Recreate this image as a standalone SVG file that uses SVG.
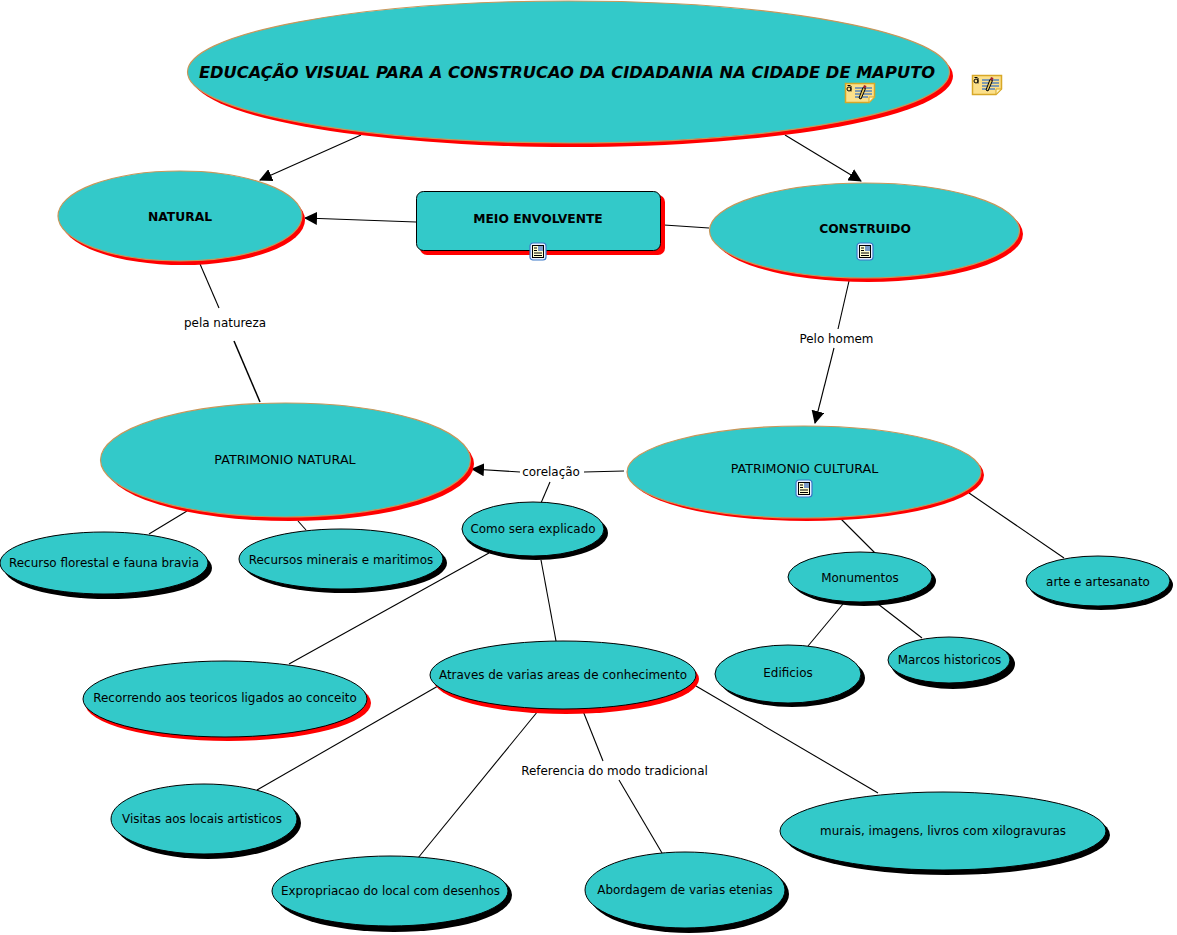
<svg xmlns="http://www.w3.org/2000/svg" width="1177" height="935" viewBox="0 0 1177 935">
<style>
text{font-family:"DejaVu Sans",Verdana,sans-serif;font-size:11.95px;fill:#000;text-anchor:middle}
.b{font-weight:bold;font-size:12.3px}
.u{font-size:12.7px}
.t{font-weight:bold;font-style:italic;font-size:16.3px}
.n{fill:#33c9c9;stroke:#000;stroke-width:1}
.o{fill:#33c9c9;stroke:#c8975a;stroke-width:1.2}
.sr{fill:#f00}.sk{fill:#000}
.c line{stroke:#000;stroke-width:1.1}
</style>
<defs>
<marker id="a" markerUnits="userSpaceOnUse" markerWidth="13" markerHeight="13" refX="12" refY="6.500" orient="auto"><path d="M0 0L13 6.500L0 13z" fill="#000"/></marker>
<g id="doc"><rect x="0" y="0" width="16" height="17" rx="3" fill="#e8f0ff" stroke="#3a78c8" stroke-width="1.200"/><rect x="2.500" y="2.500" width="11" height="12" fill="#ffffd0" stroke="#000" stroke-width="1"/><rect x="8" y="3" width="5" height="5" fill="#7a9ac8"/><path d="M4 5h3M4 7.500h3M4 10h8M4 12.500h8" stroke="#000" stroke-width="1"/></g>
<g id="note"><path d="M.5 .5H29.500V14L24 19.500H.5z" fill="#fce08a" stroke="#d8a828" stroke-width="1.500"/><path d="M24 19.500V14H29.500z" fill="#fff4c0" stroke="#d8a828"/><circle cx="4" cy="6" r="2" fill="none" stroke="#000"/><path d="M6 3v5.500M2.500 2.500h3" stroke="#000" fill="none" stroke-width="1"/><path d="M10 5h17M10 8h17M10 11h17M10 14h13" stroke="#5a84b8" stroke-width="1.500"/><path d="M14 15L18 4.500L20.500 5.500L16 16z" fill="#e8c860" stroke="#000"/><path d="M18 4.500L19 2L21.500 3L20.500 5.500z" fill="#a02030"/></g>
</defs>
<g class="c">
<line x1="361" y1="135" x2="260" y2="180" marker-end="url(#a)"/>
<line x1="785" y1="135" x2="861" y2="181" marker-end="url(#a)"/>
<line x1="416" y1="222" x2="305" y2="218" marker-end="url(#a)"/>
<line x1="664" y1="225" x2="709" y2="228"/>
<line x1="200" y1="264" x2="219" y2="308"/>
<line x1="234" y1="341" x2="260" y2="402" style="stroke-width:1.500"/>
<line x1="849" y1="281" x2="838" y2="329"/>
<line x1="834" y1="348" x2="815" y2="423" marker-end="url(#a)"/>
<line x1="520" y1="472" x2="472" y2="469" marker-end="url(#a)"/>
<line x1="584" y1="472" x2="624" y2="471"/>
<line x1="550" y1="482" x2="541" y2="503"/>
<line x1="187" y1="511" x2="149" y2="534"/>
<line x1="298" y1="521" x2="306" y2="530"/>
<line x1="489" y1="553" x2="289" y2="664"/>
<line x1="541" y1="560" x2="556" y2="641"/>
<line x1="840" y1="518" x2="875" y2="553"/>
<line x1="969" y1="493" x2="1064" y2="558"/>
<line x1="843" y1="604" x2="808" y2="646"/>
<line x1="878" y1="604" x2="922" y2="638"/>
<line x1="438" y1="686" x2="257" y2="790"/>
<line x1="538" y1="711" x2="418" y2="858"/>
<line x1="583" y1="711" x2="603" y2="761"/>
<line x1="619" y1="780" x2="662" y2="853"/>
<line x1="696" y1="686" x2="878" y2="793"/>
</g>
<g id="title"><ellipse class="sr" cx="572" cy="76" rx="381" ry="71"/><ellipse class="o" cx="568.500" cy="72" rx="381" ry="71"/><text class="t" x="567" y="78">EDUCAÇÃO VISUAL PARA A CONSTRUCAO DA CIDADANIA NA CIDADE DE MAPUTO</text><use href="#note" x="845" y="83"/></g>
<g id="note2"><use href="#note" x="972" y="75"/></g>
<g id="natural"><ellipse class="sr" cx="183" cy="220" rx="122" ry="45"/><ellipse class="o" cx="180" cy="216" rx="122" ry="45"/><text class="b" x="180" y="221">NATURAL</text></g>
<g id="meio"><rect class="sr" x="420" y="195" width="245" height="60" rx="7"/><rect class="n" x="416.500" y="191.500" width="244" height="59" rx="7"/><text class="b" x="538" y="223">MEIO ENVOLVENTE</text><use href="#doc" x="530" y="243"/></g>
<g id="construido"><ellipse class="sr" cx="868" cy="234" rx="155" ry="48"/><ellipse class="o" cx="864.500" cy="230.500" rx="155" ry="47.500"/><text class="b" x="865" y="233">CONSTRUIDO</text><use href="#doc" x="857" y="243"/></g>
<g id="patnat"><ellipse class="sr" cx="289" cy="464" rx="185" ry="57"/><ellipse class="o" cx="285.500" cy="460" rx="185" ry="57"/><text class="u" x="285" y="464">PATRIMONIO NATURAL</text></g>
<g id="patcul"><ellipse class="sr" cx="807" cy="475" rx="177" ry="46"/><ellipse class="o" cx="804" cy="472" rx="177" ry="46"/><text class="u" x="804.500" y="473">PATRIMONIO CULTURAL</text><use href="#doc" x="796" y="480"/></g>
<g id="rec"><ellipse class="sk" cx="108" cy="568" rx="104" ry="31"/><ellipse class="n" cx="104" cy="563" rx="104" ry="31"/><text x="104" y="567">Recurso florestal e fauna bravia</text></g>
<g id="min"><ellipse class="sk" cx="345" cy="563" rx="102" ry="30"/><ellipse class="n" cx="341" cy="559" rx="102" ry="30"/><text x="341" y="564">Recursos minerais e maritimos</text></g>
<g id="como"><ellipse class="sk" cx="536" cy="533" rx="72" ry="27"/><ellipse class="n" cx="533" cy="529" rx="71" ry="27"/><text x="533" y="533">Como sera explicado</text></g>
<g id="monu"><ellipse class="sk" cx="864" cy="581" rx="72" ry="25"/><ellipse class="n" cx="860" cy="577" rx="72" ry="25"/><text x="860" y="582">Monumentos</text></g>
<g id="arte"><ellipse class="sk" cx="1101" cy="585" rx="72" ry="25"/><ellipse class="n" cx="1098" cy="581" rx="72" ry="25"/><text x="1098" y="586">arte e artesanato</text></g>
<g id="edif"><ellipse class="sk" cx="792" cy="678" rx="73" ry="29"/><ellipse class="n" cx="788" cy="674" rx="73" ry="29"/><text x="788" y="677">Edificios</text></g>
<g id="marcos"><ellipse class="sk" cx="953" cy="664" rx="62" ry="25"/><ellipse class="n" cx="949" cy="660" rx="61" ry="23"/><text x="949.500" y="664">Marcos historicos</text></g>
<g id="teor"><ellipse class="sr" cx="228" cy="703" rx="143" ry="38"/><ellipse class="n" cx="225" cy="699" rx="142" ry="38"/><text x="225" y="702">Recorrendo aos teoricos ligados ao conceito</text></g>
<g id="atraves"><ellipse class="sr" cx="566" cy="679" rx="133" ry="35"/><ellipse class="n" cx="563" cy="675" rx="133" ry="34"/><text x="563" y="679">Atraves de varias areas de conhecimento</text></g>
<g id="visitas"><ellipse class="sk" cx="208" cy="823" rx="93" ry="36"/><ellipse class="n" cx="204" cy="819" rx="93" ry="35"/><text x="202" y="823">Visitas aos locais artisticos</text></g>
<g id="expro"><ellipse class="sk" cx="394" cy="895" rx="118" ry="37"/><ellipse class="n" cx="390" cy="891" rx="118" ry="35"/><text x="390.500" y="895">Expropriacao do local com desenhos</text></g>
<g id="abord"><ellipse class="sk" cx="689" cy="894" rx="100" ry="39"/><ellipse class="n" cx="685" cy="890" rx="100" ry="38"/><text x="685" y="894">Abordagem de varias etenias</text></g>
<g id="murais"><ellipse class="sk" cx="947" cy="835" rx="163" ry="40"/><ellipse class="n" cx="943" cy="831" rx="163" ry="39"/><text x="943" y="835">murais, imagens, livros com xilogravuras</text></g>
<g id="labels">
<text x="225" y="327">pela natureza</text>
<text x="836.500" y="343">Pelo homem</text>
<text x="551" y="476">corelação</text>
<text x="614.500" y="775">Referencia do modo tradicional</text>
</g>
</svg>
